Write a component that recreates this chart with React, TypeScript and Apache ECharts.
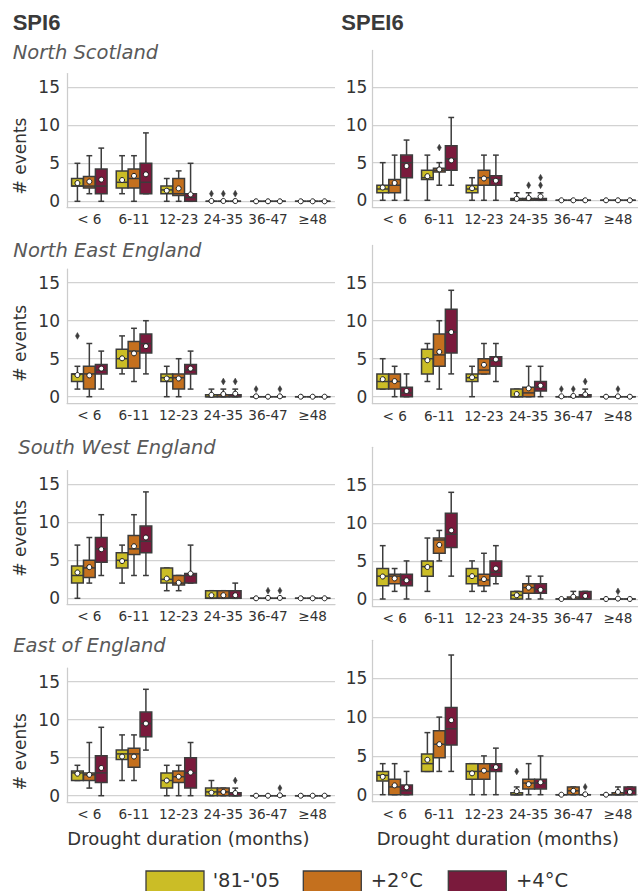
import React, { useEffect, useRef } from 'react';
import * as echarts from 'echarts';

const CATEGORIES = ['< 6', '6-11', '12-23', '24-35', '36-47', '≥48'];
const GROUPS = ["'81-'05", '+2°C', '+4°C'];
const Y_TICKS = [0, 5, 10, 15];
const REGIONS = ['North Scotland', 'North East England', 'South West England', 'East of England'];
const INDICES = ['SPI6', 'SPEI6'];

// each row: [whiskerLow, q1, median, q3, whiskerHigh, mean] per duration class
const NS_SPI_81 = [[0, 2, 2, 3, 5, 2.4], [1, 1.75, 2.5, 4, 6, 2.8], [0, 1, 1.5, 2, 3, 1.4], [0, 0, 0, 0, 0, 0.04], [0, 0, 0, 0, 0, 0], [0, 0, 0, 0, 0, 0]];
const NS_SPI_2C = [[1, 1.75, 2, 3.25, 6, 2.6], [0, 1.75, 3, 4.25, 6, 3.35], [0, 0.75, 1, 3, 4, 1.7], [0, 0, 0, 0, 0, 0.04], [0, 0, 0, 0, 0, 0], [0, 0, 0, 0, 0, 0]];
const NS_SPI_4C = [[0, 1, 2, 4.25, 7, 2.85], [1, 1, 2.5, 5, 9, 3.55], [0, 0, 0.5, 1, 5, 0.9], [0, 0, 0, 0, 0, 0.04], [0, 0, 0, 0, 0, 0], [0, 0, 0, 0, 0, 0]];
const NS_SPI_OUT = [[3, 0, 1], [3, 1, 1], [3, 2, 1]];

const NS_SPEI_81 = [[0, 1, 1.5, 2, 5, 1.7], [0, 2.75, 3, 4, 6, 3.2], [0, 1, 1.5, 2, 3, 1.6], [0, 0, 0, 0.25, 1, 0.2], [0, 0, 0, 0, 0, 0], [0, 0, 0, 0, 0, 0]];
const NS_SPEI_2C = [[0, 1, 2, 2.75, 6, 2.3], [2, 3.75, 4, 4.25, 5, 4.1], [0, 2, 3, 4, 6, 2.9], [0, 0, 0, 0.25, 1, 0.3], [0, 0, 0, 0, 0, 0], [0, 0, 0, 0, 0, 0]];
const NS_SPEI_4C = [[0, 3, 5, 6, 8, 4.55], [2, 4, 5.5, 7.25, 11, 5.3], [0, 2, 2.75, 3.25, 6, 2.6], [0, 0, 0, 0.25, 1, 0.5], [0, 0, 0, 0, 0, 0], [0, 0, 0, 0, 0, 0]];
const NS_SPEI_OUT = [[1, 1, 7], [3, 1, 2], [3, 2, 2], [3, 2, 3]];

const NE_SPI_81 = [[1, 2, 3, 3, 4, 2.85], [3, 3.75, 5, 6.25, 8, 5.05], [0, 2, 2.5, 3, 4, 2.4], [0, 0, 0, 0.25, 1, 0.25], [0, 0, 0, 0, 0, 0.05], [0, 0, 0, 0, 0, 0]];
const NE_SPI_2C = [[0, 1, 3, 4, 7, 2.8], [2, 3.75, 6, 7.25, 9, 5.7], [0, 1, 2.5, 3, 5, 2.4], [0, 0, 0, 0.25, 1, 0.35], [0, 0, 0, 0, 0, 0], [0, 0, 0, 0, 0, 0]];
const NE_SPI_4C = [[1, 3, 3.5, 4.25, 6, 3.7], [3, 5.75, 7, 8.25, 10, 6.65], [1, 3, 3.5, 4.25, 6, 3.7], [0, 0, 0, 0.25, 1, 0.4], [0, 0, 0, 0, 0, 0.05], [0, 0, 0, 0, 0, 0]];
const NE_SPI_OUT = [[0, 0, 8], [3, 1, 2], [3, 2, 2], [4, 0, 1], [4, 2, 1]];

const NE_SPEI_81 = [[1, 1, 2, 3, 5, 2.3], [2, 3, 5, 6.25, 7, 4.8], [0, 2, 2.5, 3, 4, 2.55], [0, 0, 0, 1, 1, 0.35], [0, 0, 0, 0, 0, 0.05], [0, 0, 0, 0, 0, 0]];
const NE_SPEI_2C = [[0, 1, 2, 3, 4, 2.05], [1, 4, 5.5, 8.25, 10, 5.9], [3, 3, 3.5, 5, 7, 4.2], [0, 0, 0.5, 1.25, 4, 1.1], [0, 0, 0, 0, 0, 0.1], [0, 0, 0, 0, 0, 0.05]];
const NE_SPEI_4C = [[0, 0, 0.5, 1.25, 3, 0.75], [3, 5.75, 8.5, 11.5, 14, 8.5], [2, 4, 4.75, 5.25, 7, 4.9], [0, 0.75, 1.25, 2, 4, 1.45], [0, 0, 0, 0.25, 1, 0.3], [0, 0, 0, 0, 0, 0]];
const NE_SPEI_OUT = [[4, 0, 1], [4, 1, 1], [4, 2, 2], [5, 1, 1]];

const SW_SPI_81 = [[0, 2, 3, 4.25, 7, 3.4], [2, 4, 5, 6, 7, 4.9], [1, 2, 2.5, 4, 4, 2.6], [0, 0, 0, 1, 1, 0.4], [0, 0, 0, 0, 0, 0], [0, 0, 0, 0, 0, 0]];
const SW_SPI_2C = [[2, 2.75, 4, 5, 8, 4.1], [3, 5.75, 6.5, 8.25, 11, 6.85], [1, 1.75, 2, 3, 3, 2.05], [0, 0, 0, 1, 1, 0.4], [0, 0, 0, 0, 0, 0.05], [0, 0, 0, 0, 0, 0]];
const SW_SPI_4C = [[3, 4.75, 6.5, 8, 11, 6.45], [3, 6, 7.5, 9.5, 14, 8.0], [2, 2, 3, 3.25, 7, 3.25], [0, 0, 0, 1, 2, 0.4], [0, 0, 0, 0, 0, 0.05], [0, 0, 0, 0, 0, 0]];
const SW_SPI_OUT = [[4, 1, 1], [4, 2, 1]];

const SW_SPEI_81 = [[0, 1.75, 3, 4, 7, 2.95], [1, 3, 4.25, 5, 8, 4.2], [1, 2, 3, 4, 5, 3.0], [0, 0, 0.5, 1, 1, 0.5], [0, 0, 0, 0, 0, 0], [0, 0, 0, 0, 0, 0]];
const SW_SPEI_2C = [[1, 2, 3, 3.25, 4, 2.7], [5, 6, 7.75, 8, 9, 7.1], [1, 1.75, 2.5, 3.25, 6, 2.6], [0, 0.75, 1.5, 2, 3, 1.5], [0, 0, 0, 0.25, 1, 0.3], [0, 0, 0, 0, 0, 0.05]];
const SW_SPEI_4C = [[0, 1.75, 2.5, 3.25, 5, 2.45], [3, 6.75, 8.5, 11.25, 14, 9.0], [2, 3, 3.5, 5, 7, 4.0], [0, 0.75, 1.25, 2, 3, 1.2], [0, 0, 0, 1, 1, 0.4], [0, 0, 0, 0, 0, 0]];
const SW_SPEI_OUT = [[5, 1, 1]];

const EE_SPI_81 = [[2, 2, 3, 3.25, 4, 2.9], [2, 4.75, 5.5, 6, 8, 5.15], [0, 1, 2, 3, 4, 2.0], [0, 0, 0.5, 1, 2, 0.4], [0, 0, 0, 0, 0, 0], [0, 0, 0, 0, 0, 0]];
const EE_SPI_2C = [[1, 2, 2.75, 3, 7, 2.75], [2, 3.75, 5.5, 6.25, 8, 5.15], [0, 1.75, 2.5, 3.25, 4, 2.5], [0, 0, 0.5, 1, 1, 0.5], [0, 0, 0, 0, 0, 0], [0, 0, 0, 0, 0, 0]];
const EE_SPI_4C = [[0, 1.75, 3, 5.25, 9, 3.65], [6, 7.75, 9.5, 11, 14, 9.5], [0, 1, 3, 5, 7, 3.05], [0, 0, 0, 0.4, 1, 0.35], [0, 0, 0, 0, 0, 0.05], [0, 0, 0, 0, 0, 0]];
const EE_SPI_OUT = [[3, 2, 2], [4, 2, 1]];

const EE_SPEI_81 = [[0, 1.75, 2.5, 3, 4, 2.3], [3, 3, 4, 5.25, 8, 4.5], [0, 2, 3, 4, 4, 2.75], [0, 0, 0, 0.25, 1, 0.45], [0, 0, 0, 0, 0, 0], [0, 0, 0, 0, 0, 0]];
const EE_SPEI_2C = [[0, 0, 1, 2, 4, 1.2], [3, 4.75, 6.5, 8.25, 10, 6.5], [0, 2, 3, 4, 5, 3.1], [0, 0.75, 1.5, 2, 4, 1.35], [0, 0, 0.5, 1, 1, 0.5], [0, 0, 0, 0.25, 1, 0.35]];
const EE_SPEI_4C = [[0, 0, 0.5, 1.25, 3, 0.95], [3, 6.4, 8.5, 11.25, 18, 9.6], [0, 3, 3.5, 4, 6, 3.55], [0, 0.75, 1.5, 2, 5, 1.6], [0, 0, 0, 0, 0, 0.05], [0, 0, 0.5, 1, 1, 0.35]];
const EE_SPEI_OUT = [[3, 0, 3], [4, 2, 1]];

const PANEL_DATA = [
  [[NS_SPI_81, NS_SPI_2C, NS_SPI_4C], NS_SPI_OUT],
  [[NS_SPEI_81, NS_SPEI_2C, NS_SPEI_4C], NS_SPEI_OUT],
  [[NE_SPI_81, NE_SPI_2C, NE_SPI_4C], NE_SPI_OUT],
  [[NE_SPEI_81, NE_SPEI_2C, NE_SPEI_4C], NE_SPEI_OUT],
  [[SW_SPI_81, SW_SPI_2C, SW_SPI_4C], SW_SPI_OUT],
  [[SW_SPEI_81, SW_SPEI_2C, SW_SPEI_4C], SW_SPEI_OUT],
  [[EE_SPI_81, EE_SPI_2C, EE_SPI_4C], EE_SPI_OUT],
  [[EE_SPEI_81, EE_SPEI_2C, EE_SPEI_4C], EE_SPEI_OUT],
];

// layout
const COLORS = ['#cbbd26', '#c4701e', '#7a1a3c'];
const EDGE = '#3c3c3c';
const FONT = 'DejaVu Sans';
const COL_LEFT = [67, 372.3];
const COL_WIDTH = 268;
const Y_RANGE = [[-0.8, 16.8], [-0.9, 19.9]];
const ROW_Y0 = [[201.3, 200.3], [396.7, 396.7], [598.3, 599], [795.7, 794.7]];
const ROW_PPU = [[7.6, 7.53], [7.6, 7.6], [7.6, 7.62], [7.6, 7.76]];
const TITLE_POS = [[12.7, 52.8], [13.3, 250.8], [18.3, 447.5], [13.3, 645]];
const YNAME_Y = [156, 343.3, 538.3, 751.7];

function boxRenderer(g: number) {
  return (params: any, api: any) => {
    const cat = api.value(0);
    const center = api.coord([cat, 0]);
    const band = api.size([1, 0])[0];
    const bw = (band * 0.8) / 3;
    const cx = center[0] + (g - 1) * bw;
    const w = bw * 0.98;
    const Y = (v: number) => api.coord([cat, v])[1];
    const yMin = Y(api.value(1));
    const yQ1 = Y(api.value(2));
    const yMed = Y(api.value(3));
    const yQ3 = Y(api.value(4));
    const yMax = Y(api.value(5));
    const yMean = Y(api.value(6));
    const cap = w / 4;
    const ls = { stroke: EDGE, lineWidth: 1.5 };
    return {
      type: 'group',
      children: [
        { type: 'line', shape: { x1: cx, y1: yQ3, x2: cx, y2: yMax }, style: ls },
        { type: 'line', shape: { x1: cx, y1: yQ1, x2: cx, y2: yMin }, style: ls },
        { type: 'line', shape: { x1: cx - cap, y1: yMax, x2: cx + cap, y2: yMax }, style: ls },
        { type: 'line', shape: { x1: cx - cap, y1: yMin, x2: cx + cap, y2: yMin }, style: ls },
        {
          type: 'rect',
          shape: { x: cx - w / 2, y: yQ3, width: w, height: yQ1 - yQ3 },
          style: { fill: COLORS[g], stroke: EDGE, lineWidth: 1.5 },
        },
        { type: 'line', shape: { x1: cx - w / 2, y1: yMed, x2: cx + w / 2, y2: yMed }, style: ls },
        { type: 'circle', shape: { cx, cy: yMean, r: 2.5 }, style: { fill: '#ffffff', stroke: '#1a1a1a', lineWidth: 1 } },
      ],
    };
  };
}

function outlierRenderer(params: any, api: any) {
  const cat = api.value(0);
  const g = api.value(1);
  const p = api.coord([cat, api.value(2)]);
  const band = api.size([1, 0])[0];
  const bw = (band * 0.8) / 3;
  const cx = p[0] + (g - 1) * bw;
  const cy = p[1];
  return {
    type: 'polygon',
    shape: { points: [[cx, cy - 3.4], [cx + 2, cy], [cx, cy + 3.4], [cx - 2, cy]] },
    style: { fill: EDGE, stroke: EDGE, lineWidth: 0.5 },
  };
}

export default function App() {
  const ref = useRef<HTMLDivElement>(null);
  useEffect(() => {
    if (!ref.current) return;
    const chart = echarts.init(ref.current, null, { renderer: 'svg' });
    const grid: any[] = [];
    const xAxis: any[] = [];
    const yAxis: any[] = [];
    const series: any[] = [];
    PANEL_DATA.forEach(([groups, outliers], i) => {
      const row = Math.floor(i / 2);
      const col = i % 2;
      const [ymin, ymax] = Y_RANGE[col];
      const y0 = ROW_Y0[row][col];
      const ppu = ROW_PPU[row][col];
      grid.push({
        left: COL_LEFT[col],
        top: y0 - ymax * ppu,
        width: COL_WIDTH,
        height: (ymax - ymin) * ppu,
        containLabel: false,
        outerBoundsMode: 'none',
      });
      xAxis.push({
        gridIndex: i,
        type: 'category',
        data: CATEGORIES,
        boundaryGap: true,
        axisLine: { show: true, onZero: false, lineStyle: { color: '#cccccc', width: 1.25 } },
        axisTick: { show: false },
        axisLabel: { interval: 0, fontSize: 13.6, fontFamily: FONT, color: '#333333', margin: 5 },
        splitLine: { show: false },
      });
      yAxis.push({
        gridIndex: i,
        type: 'value',
        min: ymin,
        max: ymax,
        axisLine: { show: true, lineStyle: { color: '#cccccc', width: 1.25 } },
        axisTick: { show: false, customValues: Y_TICKS },
        axisLabel: { customValues: Y_TICKS, fontSize: 17, fontFamily: FONT, color: '#333333', margin: col === 0 ? 7 : 5 },
        splitLine: { show: true, lineStyle: { color: '#d2d2d2', width: 1.25 } },
      });
      (groups as number[][][]).forEach((rows, g) => {
        series.push({
          type: 'custom',
          name: GROUPS[g],
          xAxisIndex: i,
          yAxisIndex: i,
          itemStyle: { color: COLORS[g] },
          renderItem: boxRenderer(g),
          data: rows.map((r, c) => [c, ...r]),
          z: 2,
        });
      });
      series.push({
        type: 'custom',
        name: 'outliers',
        xAxisIndex: i,
        yAxisIndex: i,
        renderItem: outlierRenderer,
        data: outliers,
        z: 3,
      });
    });

    const graphic: any[] = [];
    graphic.push({ type: 'text', x: 12.7, y: 22.8, style: { text: INDICES[0], fontSize: 22, fontWeight: 'bold', fontFamily: 'Liberation Sans', fill: '#3a3a3a', align: 'left', verticalAlign: 'middle' } });
    graphic.push({ type: 'text', x: 341.3, y: 22.8, style: { text: INDICES[1], fontSize: 22, fontWeight: 'bold', fontFamily: 'Liberation Sans', fill: '#3a3a3a', align: 'left', verticalAlign: 'middle' } });
    REGIONS.forEach((r, k) => {
      graphic.push({ type: 'text', x: TITLE_POS[k][0], y: TITLE_POS[k][1], style: { text: r, fontSize: 19.5, fontStyle: 'italic', fontFamily: FONT, fill: '#595959', align: 'left', verticalAlign: 'middle' } });
      graphic.push({ type: 'text', x: 20, y: YNAME_Y[k], rotation: Math.PI / 2, style: { text: '# events', fontSize: 17, fontFamily: FONT, fill: '#333333', align: 'center', verticalAlign: 'middle' } });
    });
    [67.3, 376.7].forEach((x) => {
      graphic.push({ type: 'text', x, y: 838.7, style: { text: 'Drought duration (months)', fontSize: 18, fontFamily: FONT, fill: '#333333', align: 'left', verticalAlign: 'middle' } });
    });
    const LEG_RECT_X = [146, 303.3, 448.3];
    const LEG_TEXT_X = [212.7, 370.7, 516];
    GROUPS.forEach((name, g) => {
      graphic.push({ type: 'rect', shape: { x: LEG_RECT_X[g], y: 871, width: 58, height: 30 }, style: { fill: COLORS[g], stroke: EDGE, lineWidth: 1.3 } });
      graphic.push({ type: 'text', x: LEG_TEXT_X[g], y: 880, style: { text: name, fontSize: 19.5, fontFamily: FONT, fill: '#333333', align: 'left', verticalAlign: 'middle' } });
    });

    chart.setOption({
      animation: false,
      backgroundColor: '#ffffff',
      grid,
      xAxis,
      yAxis,
      series,
      graphic,
    });
    return () => chart.dispose();
  }, []);
  return <div ref={ref} style={{ position: 'absolute', left: 0, top: 0, width: 638, height: 891 }} />;
}
